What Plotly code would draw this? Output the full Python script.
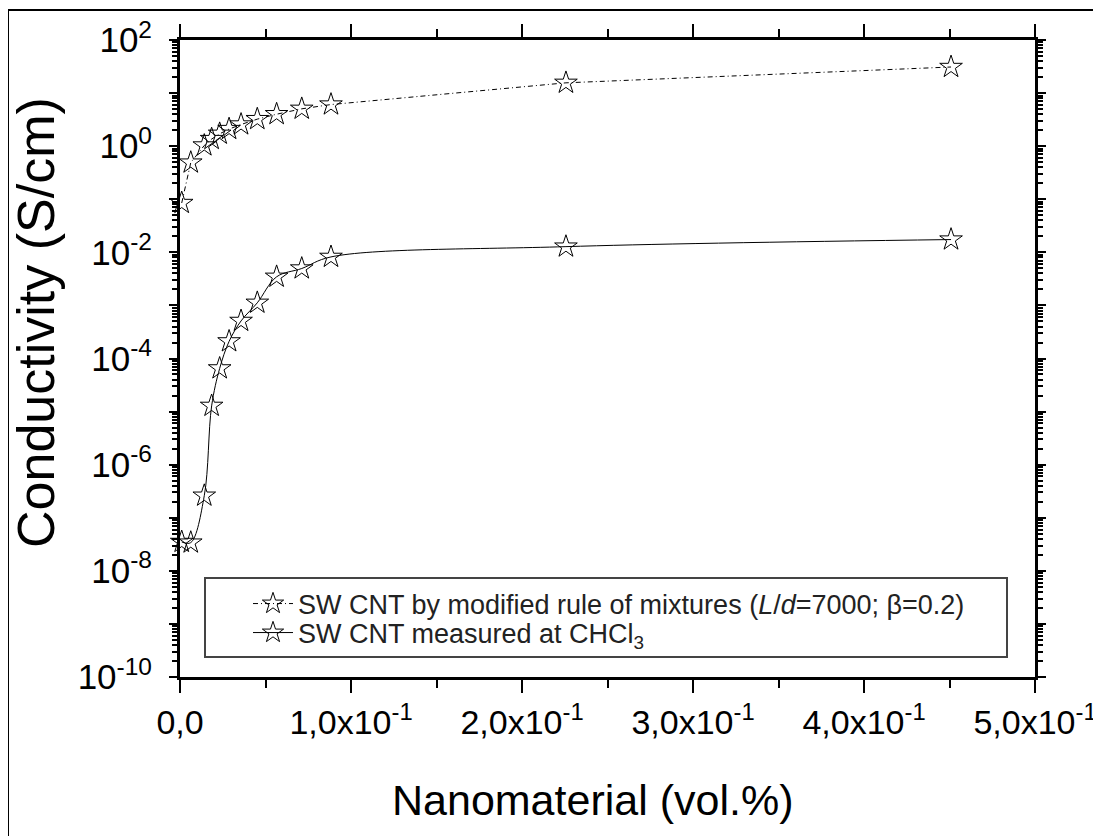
import plotly.graph_objects as go

# Data
x_vals = [0.001, 0.0063, 0.0142, 0.0185, 0.0232, 0.0287, 0.0357, 0.0452, 0.0565, 0.0712, 0.0883, 0.2257, 0.4509]
model_vals = [0.085, 0.49, 1.03, 1.36, 1.71, 2.1, 2.56, 3.23, 4.0, 5.05, 6.08, 15.6, 31.0]
measured_vals = [3.5e-8, 3.4e-8, 2.6e-7, 1.28e-5, 6.5e-5, 2.1e-4, 5.1e-4, 1.12e-3, 3.46e-3, 4.96e-3, 8.2e-3, 1.28e-2, 1.74e-2]

model_name = "SW CNT by modified rule of mixtures (<i>L</i>/<i>d</i>=7000; \u03b2=0.2)"
measured_name = "SW CNT measured at CHCl<sub>3</sub>"
x_title = "Nanomaterial (vol.%)"
y_title = "Conductivity (S/cm)"

x_tick_vals = [0.0, 0.1, 0.2, 0.3, 0.4, 0.5]
x_tick_text = ["0,0", "1,0x10<sup>-1</sup>", "2,0x10<sup>-1</sup>", "3,0x10<sup>-1</sup>",
               "4,0x10<sup>-1</sup>", "5,0x10<sup>-1</sup>"]
x_minor_vals = [0.05, 0.15, 0.25, 0.35, 0.45]

y_exps = list(range(-10, 3))
y_tick_vals = [10.0 ** e for e in y_exps]
y_tick_text = [("10<sup>%d</sup>" % e) if e % 2 == 0 else "" for e in y_exps]
y_minor_vals = [m * 10.0 ** e for e in range(-10, 2) for m in range(2, 10)]

FONT = "Liberation Sans, Arial, sans-serif"

fig = go.Figure()
fig.add_trace(go.Scatter(
    x=x_vals, y=model_vals, name=model_name, mode="lines+markers", legend="legend",
    line=dict(color="black", width=1, dash="5px,3px,1px,3px"),
    marker=dict(symbol="star-open", size=17, color="black", line=dict(width=1, color="black")),
    cliponaxis=False,
))
fig.add_trace(go.Scatter(
    x=x_vals, y=measured_vals, name=measured_name, mode="lines+markers", legend="legend2",
    line=dict(color="black", width=1, shape="spline", smoothing=1.0),
    marker=dict(symbol="star-open", size=17, color="black", line=dict(width=1, color="black")),
    cliponaxis=False,
))

OFF = 8  # page body margin
L, R, T, B = 172, 66, 32, 167
W, H = 1093, 836
pw, ph = W - L - R, H - T - B

def px_x(p):
    return (p - OFF - L) / pw

def px_y(p):
    return (H - B - (p - OFF)) / ph

shapes = [
    # outer frame
    dict(type="rect", xref="paper", yref="paper", x0=px_x(8), x1=px_x(1099), y0=px_y(845), y1=px_y(10),
         line=dict(color="black", width=2), fillcolor="rgba(0,0,0,0)", layer="below"),
    # legend box
    dict(type="rect", xref="paper", yref="paper", x0=px_x(205), x1=px_x(1007), y0=px_y(657), y1=px_y(578),
         line=dict(color="#444", width=2), fillcolor="white", layer="below"),
]

annotations = [
    dict(text=y_title, xref="paper", yref="paper", x=px_x(36), y=px_y(323), xanchor="center", yanchor="middle",
         textangle=-90, showarrow=False, font=dict(family=FONT, size=52, color="black")),
    dict(text=x_title, xref="paper", yref="paper", x=px_x(592), y=px_y(800), xanchor="center", yanchor="middle",
         showarrow=False, font=dict(family=FONT, size=43, color="black")),
]

leg_common = dict(xanchor="left", yanchor="middle", bgcolor="rgba(0,0,0,0)", borderwidth=0,
                  font=dict(family=FONT, size=27, color="#222"), itemwidth=40, tracegroupgap=0)

fig.update_layout(
    width=W, height=H,
    margin=dict(l=L, r=R, t=T, b=B, autoexpand=False),
    paper_bgcolor="white", plot_bgcolor="white",
    font=dict(family=FONT, color="black"),
    shapes=shapes, annotations=annotations,
    showlegend=True,
    legend=dict(x=px_x(248), y=px_y(604), **leg_common),
    legend2=dict(x=px_x(248), y=px_y(633), **leg_common),
)

fig.update_xaxes(
    range=[0, 0.5], showgrid=False, zeroline=False, automargin=False,
    showline=True, linecolor="black", linewidth=3, mirror="ticks",
    ticks="outside", ticklen=13, tickwidth=2, tickcolor="black",
    tickmode="array", tickvals=x_tick_vals, ticktext=x_tick_text,
    tickfont=dict(family=FONT, size=34),
    minor=dict(tickmode="array", tickvals=x_minor_vals, ticks="outside", ticklen=8, tickwidth=2,
               tickcolor="black", showgrid=False),
)
fig.update_yaxes(
    type="log", range=[-10, 2], showgrid=False, zeroline=False, automargin=False,
    showline=True, linecolor="black", linewidth=3, mirror="ticks",
    ticks="outside", ticklen=8, tickwidth=2, tickcolor="black",
    tickmode="array", tickvals=y_tick_vals, ticktext=y_tick_text,
    tickfont=dict(family=FONT, size=35), ticklabelstandoff=10,
    minor=dict(tickmode="array", tickvals=y_minor_vals, ticks="outside", ticklen=5, tickwidth=1.5,
               tickcolor="black", showgrid=False),
)

fig.write_html("out.html")
